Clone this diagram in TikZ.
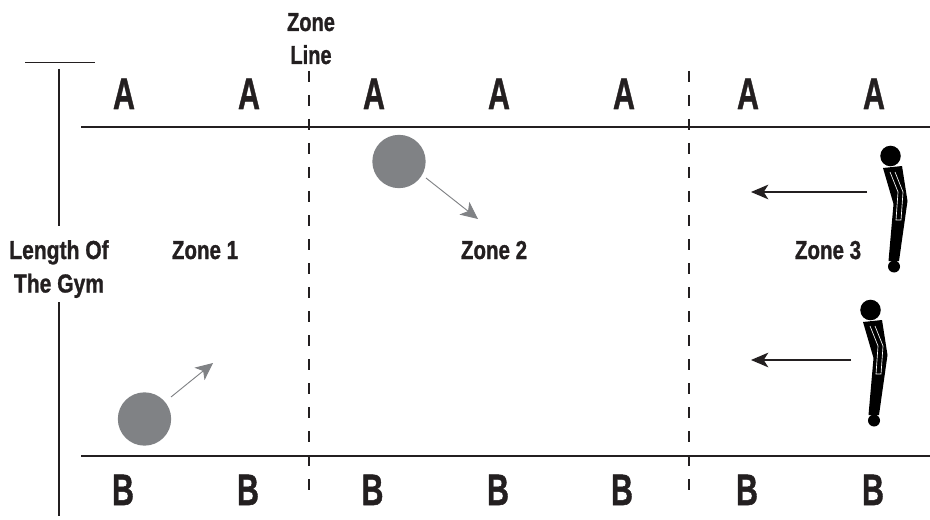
\documentclass[tikz,border=0pt]{standalone}
\usepackage{fontspec}
\setmainfont{Liberation Sans}
\newfontfamily\heavyfont[FakeBold=1.2]{Liberation Sans Bold}
\usetikzlibrary{arrows.meta}
\definecolor{ballgray}{RGB}{128,130,133}
\definecolor{ink}{RGB}{35,31,32}
\newcommand{\narrowtext}[3]{\scalebox{#1}[1]{\fontsize{#2}{#2}\selectfont\heavyfont #3}}
\tikzset{
  px/.style={x=0.75pt,y=-0.75pt},
  letter/.style={inner sep=0pt,text=ink,anchor=base},
  lab/.style={inner sep=0pt,text=ink,anchor=base},
  court/.style={draw=ink,line width=1.1pt},
  zoneline/.style={draw=ink,line width=0.9pt,dash pattern=on 8.5pt off 9.5pt},
  dim/.style={draw=ink,line width=0.9pt},
  dimthin/.style={draw=ink,line width=0.65pt},
  ball/.style={circle,fill=ballgray,minimum size=40pt,inner sep=0pt},
  grayarrow/.style={draw=ballgray,line width=0.7pt,-{Stealth[length=13pt,width=12pt,inset=3.5pt]}},
  blackarrow/.style={draw=ink,line width=0.8pt,-{Stealth[length=13pt,width=11pt,inset=3.5pt]}}
}
\newcommand{\athlete}[2]{%
 \begin{scope}[shift={(#1,#2)}]
  \fill[black] (890.5,156) circle (7.7pt);
  \fill[black] (883,168) -- (902,166) -- (907.5,201) -- (899,261) -- (888.5,261) -- (893.5,204) -- cycle;
  \draw[white,line width=0.5pt] (890,172) -- (898,192) -- (896,220) -- (901,220) -- (903,192) -- (895,172);
  \fill[black] (894,266.5) circle (4.5pt);
 \end{scope}}
\begin{document}
\begin{tikzpicture}[px]
\useasboundingbox (0,0) rectangle (930,520);
% dimension line
\coordinate (dimtopL) at (25,62); \coordinate (dimtopR) at (95,62);
\draw[dimthin] (dimtopL) -- (dimtopR);
\coordinate (v1) at (59,69); \coordinate (v2) at (59,226);
\coordinate (v3) at (59,302); \coordinate (v4) at (59,516);
\draw[dim] (v1) -- (v2); \draw[dim] (v3) -- (v4);
% court lines
\coordinate (t1) at (81,127); \coordinate (t2) at (930,127);
\coordinate (b1) at (81,456); \coordinate (b2) at (930,456);
\draw[court] (t1) -- (t2); \draw[court] (b1) -- (b2);
% zone lines
\coordinate (z1a) at (309,71); \coordinate (z1b) at (309,491);
\coordinate (z2a) at (689,71); \coordinate (z2b) at (689,491);
\draw[zoneline] (z1a) -- (z1b); \draw[zoneline] (z2a) -- (z2b);
% letters
\foreach \n/\x in {1/124,2/249,3/374,4/499,5/624,6/748,7/874}{
  \node[letter] (A\n) at (\x,109) {\narrowtext{0.69}{33}{A}};}
\foreach \n/\x in {1/123,2/248,3/372.5,4/498,5/622,6/747,7/873}{
  \node[letter] (B\n) at (\x,505) {\narrowtext{0.69}{33}{B}};}
% labels
\node[lab] (zl1) at (311,31) {\narrowtext{0.77}{19.5}{Zone}};
\node[lab] (zl2) at (311,64) {\narrowtext{0.77}{19.5}{Line}};
\node[lab] (len1) at (59,259) {\narrowtext{0.81}{19.5}{Length Of}};
\node[lab] (len2) at (59,292.5) {\narrowtext{0.81}{19.5}{The Gym}};
\node[lab] (zone1) at (205,259) {\narrowtext{0.79}{19.5}{Zone 1}};
\node[lab] (zone2) at (494,259) {\narrowtext{0.79}{19.5}{Zone 2}};
\node[lab] (zone3) at (828,259) {\narrowtext{0.79}{19.5}{Zone 3}};
% balls and arrows
\node[ball] (ball1) at (399,161.5) {};
\node[ball] (ball2) at (144.5,419) {};
\coordinate (e1) at (478,219); \coordinate (e2) at (213,363);
\draw[grayarrow] (ball1) ++(27,16.5) -- (e1);
\draw[grayarrow] (ball2) ++(26.5,-22) -- (e2);
% players arrows
\coordinate (p1a) at (867,192); \coordinate (p1b) at (751,192);
\coordinate (p2a) at (851,360); \coordinate (p2b) at (751,360);
\draw[blackarrow] (p1a) -- (p1b);
\draw[blackarrow] (p2a) -- (p2b);
\athlete{0}{0}
\athlete{-20}{154}
\end{tikzpicture}
\end{document}
